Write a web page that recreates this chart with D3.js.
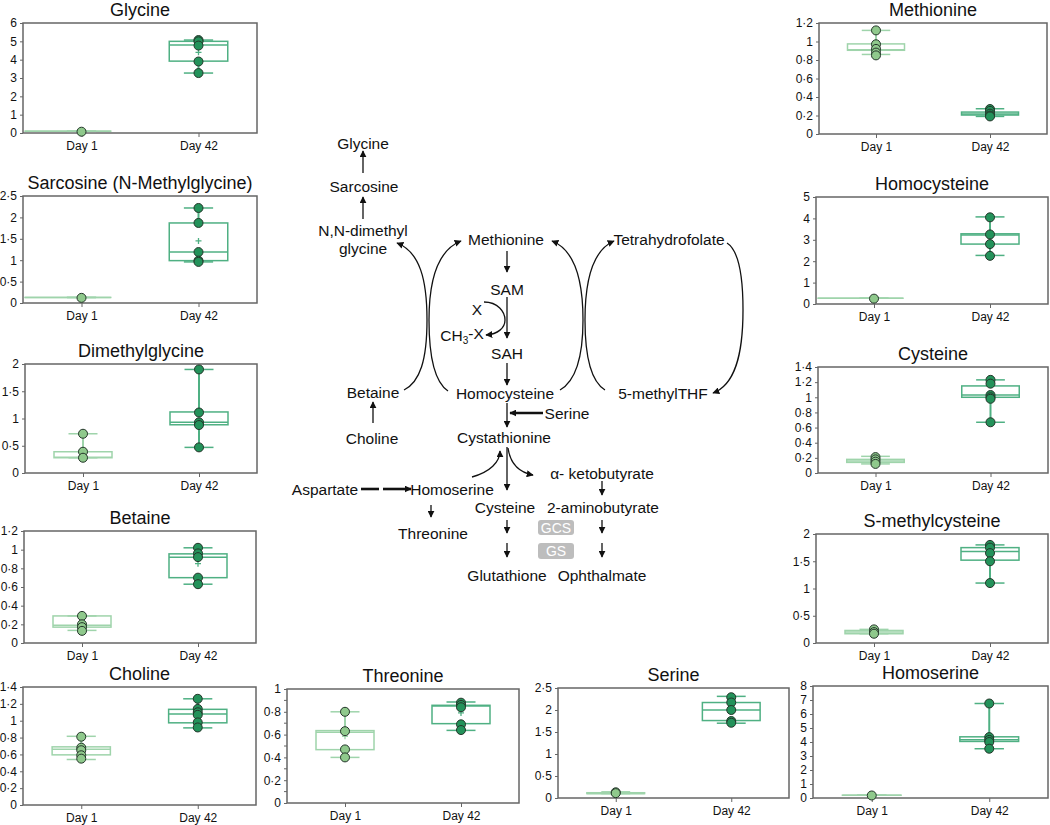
<!DOCTYPE html>
<html>
<head>
<meta charset="utf-8">
<script src="https://cdn.jsdelivr.net/npm/d3@7"></script>
<style>
  body { margin: 0; background: #fff; }
  text { font-family: "Liberation Sans", Arial, sans-serif; fill: #111; }
</style>
</head>
<body>
<div id="container"></div>
<script>
const groups = ['Day 1', 'Day 42'];
const metabolites = [
  'Glycine', 'Sarcosine (N-Methylglycine)', 'Dimethylglycine', 'Betaine', 'Choline',
  'Threonine', 'Serine', 'Homoserine',
  'Methionine', 'Homocysteine', 'Cysteine', 'S-methylcysteine'
];
const yMax = [6, 2.5, 2, 1.2, 1.4, 1, 2.5, 8, 1.2, 5, 1.4, 2];
const yStep = [1, 0.5, 0.5, 0.2, 0.2, 0.2, 0.5, 1, 0.2, 1, 0.2, 0.5];

// box stats: [min, q1, median, q3, max, mean]
const day1Stats = [
  [0.09, 0.1, 0.1, 0.1, 0.1, null],
  [0.13, 0.13, 0.13, 0.13, 0.13, null],
  [0.28, 0.28, 0.29, 0.39, 0.72, null],
  [0.135, 0.17, 0.19, 0.29, 0.29, null],
  [0.54, 0.595, 0.66, 0.69, 0.815, null],
  [0.4, 0.468, 0.62, 0.635, 0.8, 0.585],
  [0.1, 0.1, 0.1, 0.12, 0.14, null],
  [0.2, 0.2, 0.2, 0.2, 0.2, null],
  [0.86, 0.905, 0.91, 0.974, 1.12, null],
  [0.27, 0.27, 0.27, 0.27, 0.27, null],
  [0.12, 0.14, 0.16, 0.18, 0.22, null],
  [0.17, 0.17, 0.2, 0.23, 0.25, null]
];
const day42Stats = [
  [3.27, 3.92, 4.8, 5.0, 5.07, 4.4],
  [0.96, 0.99, 1.19, 1.87, 2.22, 1.45],
  [0.47, 0.885, 0.93, 1.12, 1.9, null],
  [0.63, 0.7, 0.92, 0.955, 1.02, 0.85],
  [0.915, 0.975, 1.08, 1.135, 1.26, null],
  [0.637, 0.696, 0.85, 0.857, 0.886, 0.79],
  [1.7, 1.76, 2.0, 2.17, 2.31, null],
  [3.52, 4.04, 4.16, 4.37, 6.75, null],
  [0.19, 0.205, 0.215, 0.237, 0.273, null],
  [2.27, 2.8, 3.23, 3.28, 4.07, null],
  [0.67, 1.0, 1.03, 1.15, 1.23, null],
  [1.1, 1.52, 1.68, 1.75, 1.8, null]
];
const day1Points = [
  [0.07], [0.12], [0.72, 0.39, 0.28], [0.29, 0.2, 0.17, 0.13],
  [0.81, 0.68, 0.65, 0.59, 0.55], [0.8, 0.63, 0.47, 0.4], [0.13, 0.11], [0.18],
  [1.12, 0.97, 0.92, 0.88, 0.85], [0.25], [0.21, 0.18, 0.15, 0.12], [0.25, 0.2, 0.17]
];
const day42Points = [
  [5.07, 5.0, 4.77, 3.9, 3.27], [2.22, 1.87, 1.19, 0.99, 0.96],
  [1.9, 1.11, 0.93, 0.88, 0.47], [1.02, 0.96, 0.92, 0.7, 0.63],
  [1.26, 1.14, 1.1, 1.07, 0.98, 0.92], [0.88, 0.86, 0.84, 0.69, 0.64],
  [2.29, 2.17, 2.0, 1.75, 1.71], [6.75, 4.35, 4.15, 4.0, 3.52],
  [0.27, 0.25, 0.22, 0.2, 0.19], [4.05, 3.25, 2.8, 2.25],
  [1.23, 1.18, 1.03, 1.0, 0.98, 0.67], [1.8, 1.75, 1.65, 1.5, 1.1]
];

// plot frames [x0, y0, x1, y1]
const frames = [
  [23, 23, 257, 133], [23, 196, 257, 303], [25, 364, 257, 473], [24, 531, 256, 643],
  [23, 687, 256, 805], [287, 689, 519, 803], [558, 688, 789, 798], [813, 686, 1048, 798],
  [819, 23, 1047, 134], [816, 197, 1048, 304], [818, 367, 1048, 473], [816, 534, 1048, 643]
];
const stretched = ['Glycine', 'Sarcosine (N-Methylglycine)', 'Homocysteine'];
const minorTicks = ['Threonine'];

const colors = {
  'Day 1': { box: '#9fd4ab', dot: '#8fc98c' },
  'Day 42': { box: '#4fb083', dot: '#23925a' }
};

const W = 1050, H = 825;
const svg = d3.select('#container').append('svg').attr('width', W).attr('height', H);

const fmt = v => String(+v.toFixed(1)).replace('.', '·');

metabolites.forEach((name, i) => {
  const [x0, y0, x1, y1] = frames[i];
  const g = svg.append('g');
  const x = d3.scalePoint().domain(groups).range([x0, x1]).padding(0.5);
  const y = d3.scaleLinear().domain([0, yMax[i]]).range([y1, y0]);
  const bw = (x1 - x0) * 0.25;

  g.append('rect').attr('x', x0).attr('y', y0).attr('width', x1 - x0).attr('height', y1 - y0)
    .attr('fill', 'none').attr('stroke', '#666').attr('stroke-width', 1.5);

  const ticks = d3.range(0, yMax[i] + yStep[i] / 2, yStep[i]);
  const yAxis = d3.axisLeft(y).tickValues(ticks).tickFormat(fmt).tickSize(3).tickPadding(3);
  const ya = g.append('g').attr('transform', `translate(${x0},0)`).call(yAxis);
  ya.select('.domain').remove();
  ya.selectAll('line').attr('stroke', '#666');
  ya.selectAll('text').style('font-size', '12px').attr('fill', '#111');
  if (minorTicks.includes(name)) {
    const minor = d3.range(0, yMax[i], yStep[i] / 2).filter((v, k) => k % 2 === 1);
    g.selectAll('.minor').data(minor).enter().append('line')
      .attr('x1', x0 - 3).attr('x2', x0).attr('y1', d => y(d)).attr('y2', d => y(d))
      .attr('stroke', '#666');
  }

  const xAxis = d3.axisBottom(x).tickSize(4).tickPadding(4);
  const xa = g.append('g').attr('transform', `translate(0,${y1})`).call(xAxis);
  xa.select('.domain').remove();
  xa.selectAll('line').attr('stroke', '#666');
  xa.selectAll('text').style('font-size', '12px').attr('fill', '#111');

  g.append('text').attr('x', (x0 + x1) / 2).attr('y', y0 - 7).attr('text-anchor', 'middle')
    .style('font-size', '18px').text(name);

  [[groups[0], day1Stats[i], day1Points[i]], [groups[1], day42Stats[i], day42Points[i]]].forEach(([grp, s, pts]) => {
    const cx = x(grp);
    const c = colors[grp];
    const [mn, q1, md, q3, mx, mean] = s;
    const bx0 = (grp === 'Day 1' && stretched.includes(name)) ? x0 + 2 : cx - bw / 2;
    // whiskers
    g.append('line').attr('x1', cx).attr('x2', cx).attr('y1', y(mn)).attr('y2', y(q1))
      .attr('stroke', c.box).attr('stroke-width', 2);
    g.append('line').attr('x1', cx).attr('x2', cx).attr('y1', y(q3)).attr('y2', y(mx))
      .attr('stroke', c.box).attr('stroke-width', 2);
    [mn, mx].forEach(v => {
      g.append('line').attr('x1', cx - bw / 4).attr('x2', cx + bw / 4).attr('y1', y(v)).attr('y2', y(v))
        .attr('stroke', c.box).attr('stroke-width', 1.5);
    });
    g.append('rect').attr('x', bx0).attr('y', y(q3)).attr('width', cx + bw / 2 - bx0)
      .attr('height', Math.max(0.01, y(q1) - y(q3))).attr('fill', 'none')
      .attr('stroke', c.box).attr('stroke-width', 1.5);
    g.append('line').attr('x1', bx0).attr('x2', cx + bw / 2).attr('y1', y(md)).attr('y2', y(md))
      .attr('stroke', c.box).attr('stroke-width', 1.5);
    if (mean !== null) {
      g.append('path').attr('d', `M${cx - 3},${y(mean)}h6M${cx},${y(mean) - 3}v6`)
        .attr('stroke', c.box).attr('stroke-width', 1.3);
    }
    g.selectAll(null).data(pts).enter().append('circle')
      .attr('cx', cx).attr('cy', d => y(d)).attr('r', 4.5)
      .attr('fill', c.dot).attr('stroke', '#24362a').attr('stroke-width', 1);
  });
});

// pathway diagram
const defs = svg.append('defs');
defs.append('marker').attr('id', 'ah').attr('viewBox', '0 0 10 10').attr('refX', 9).attr('refY', 5)
  .attr('markerWidth', 7).attr('markerHeight', 7).attr('markerUnits', 'userSpaceOnUse')
  .attr('orient', 'auto').append('path').attr('d', 'M0,0L10,5L0,10z').attr('fill', '#111');

const pw = svg.append('g');
const arrows = [
  'M363,173L363,151', 'M363,219L363,197',
  'M404,390C420,382 427,360 427,320C427,280 420,252 397,243',
  'M448,391C436,383 429,360 429,320C429,280 438,250 461,241',
  'M560,390C574,382 583,360 583,320C583,280 575,250 552,241',
  'M605,390C592,382 585,360 585,320C585,280 593,250 614,241',
  'M727,243C738,250 743,275 743,310C743,355 735,385 713,393',
  'M507,251L507,272', 'M507,297L507,338',
  'M484,302C498,302 505,312 505,320C505,328 498,334 486,335',
  'M507,363L507,385', 'M507,403L507,427', 'M373,423L373,402',
  'M507,447L507,490', 'M508,448C510,462 518,472 533,475',
  'M472,477C490,472 500,462 500,451', 'M602,481L602,495', 'M431,505L431,517',
  'M507,520L507,533', 'M507,543L507,557', 'M602,520L602,533', 'M602,543L602,557'
];
pw.selectAll('.arr').data(arrows).enter().append('path').attr('d', d => d)
  .attr('fill', 'none').attr('stroke', '#111').attr('stroke-width', 1.3).attr('marker-end', 'url(#ah)');
pw.append('path').attr('d', 'M543,413L510,413').attr('stroke', '#111').attr('stroke-width', 2.6)
  .attr('marker-end', 'url(#ah)');
pw.append('path').attr('d', 'M361,489L379,489').attr('stroke', '#111').attr('stroke-width', 2.6);
pw.append('path').attr('d', 'M383,489L411,489').attr('stroke', '#111').attr('stroke-width', 2.6)
  .attr('marker-end', 'url(#ah)');

const nodes = [
  ['Glycine', 363, 143], ['Sarcosine', 364, 186], ['N,N-dimethyl', 363, 230], ['glycine', 363, 248],
  ['Methionine', 506, 239], ['Tetrahydrofolate', 669, 239], ['SAM', 507, 289], ['X', 477, 309],
  ['SAH', 507, 353], ['Betaine', 373, 392], ['Homocysteine', 505, 393], ['5-methylTHF', 663, 393],
  ['Serine', 567, 413], ['Choline', 372, 438], ['Cystathionine', 504, 437],
  ['α- ketobutyrate', 602, 473], ['Aspartate', 325, 489], ['Homoserine', 452, 489],
  ['Cysteine', 505, 507], ['2-aminobutyrate', 603, 507], ['Threonine', 433, 533],
  ['Glutathione', 507, 575], ['Ophthalmate', 602, 575]
];
pw.selectAll('.node').data(nodes).enter().append('text')
  .attr('x', d => d[1]).attr('y', d => d[2]).attr('dy', '0.36em').attr('text-anchor', 'middle')
  .style('font-size', '15.5px').text(d => d[0]);
const ch3 = pw.append('text').attr('x', 462).attr('y', 335).attr('dy', '0.36em')
  .attr('text-anchor', 'middle').style('font-size', '15.5px');
ch3.append('tspan').text('CH');
ch3.append('tspan').attr('dy', '0.3em').style('font-size', '10px').text('3');
ch3.append('tspan').attr('dy', '-0.3em').text('-X');

[['GCS', 520, 15], ['GS', 543, 16]].forEach(([t, yy, hh]) => {
  pw.append('rect').attr('x', 538).attr('y', yy).attr('width', 36).attr('height', hh).attr('rx', 3)
    .attr('fill', '#bdbdbd');
  pw.append('text').attr('x', 556).attr('y', yy + hh / 2).attr('dy', '0.36em').attr('text-anchor', 'middle')
    .style('font-size', '14px').style('fill', '#fff').text(t);
});
</script>
</body>
</html>
